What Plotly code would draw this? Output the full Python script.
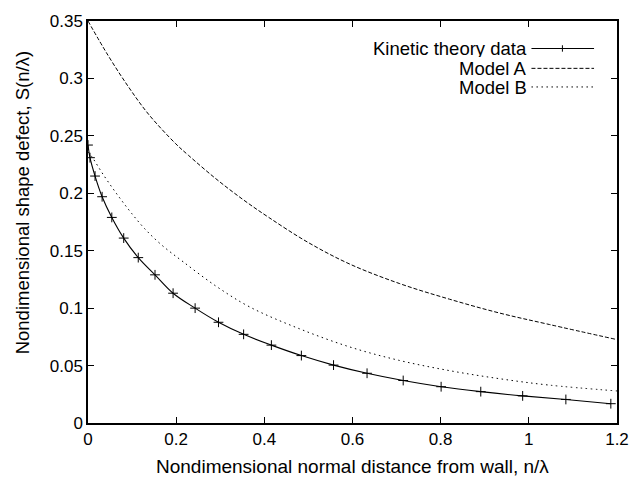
import plotly.graph_objects as go

# ---- data ----
kin_x = [0.0, 0.0045, 0.016, 0.032, 0.054, 0.081, 0.114, 0.152, 0.193, 0.243,
         0.296, 0.353, 0.416, 0.484, 0.557, 0.633, 0.715, 0.801, 0.891, 0.986,
         1.084, 1.186]
kin_y = [0.242, 0.231, 0.215, 0.197, 0.179, 0.161, 0.144, 0.129, 0.113, 0.100,
         0.0877, 0.0772, 0.0678, 0.0587, 0.0504, 0.0433, 0.0370, 0.0316, 0.0273,
         0.0236, 0.0205, 0.0168]

modelA_x = [0.0, 0.0456, 0.0912, 0.137, 0.198, 0.228, 0.289, 0.350, 0.410, 0.498,
            0.593, 0.706, 0.82, 0.933, 1.046, 1.2]
modelA_y = [0.350, 0.320, 0.293, 0.269, 0.2435, 0.2330, 0.2130, 0.1950, 0.1790,
            0.1575, 0.1385, 0.1215, 0.1078, 0.0958, 0.0858, 0.0726]

modelB_x = [0.0, 0.008, 0.038, 0.069, 0.099, 0.129, 0.167, 0.216, 0.291, 0.367,
            0.476, 0.593, 0.706, 0.82, 0.933, 1.046, 1.2]
modelB_y = [0.236, 0.2322, 0.2143, 0.1975, 0.1825, 0.1690, 0.1550, 0.1403, 0.1190,
            0.1010, 0.0826, 0.0663, 0.0545, 0.0456, 0.0386, 0.0330, 0.0279]

series_names = ["Kinetic theory data", "Model A", "Model B"]

x_ticks = [0, 0.2, 0.4, 0.6, 0.8, 1.0, 1.2]
x_tick_labels = ["0", "0.2", "0.4", "0.6", "0.8", "1", "1.2"]
y_ticks = [0, 0.05, 0.1, 0.15, 0.2, 0.25, 0.3, 0.35]
y_tick_labels = ["0", "0.05", "0.1", "0.15", "0.2", "0.25", "0.3", "0.35"]

x_title = "Nondimensional normal distance from wall, n/λ"
y_title = "Nondimensional shape defect, S(n/λ)"

FONT = "Liberation Sans, Arial, Helvetica, sans-serif"
DASH_A = "4px,2px"
DASH_B = "1.5px,3.5px"

fig = go.Figure()
fig.add_trace(go.Scatter(x=kin_x, y=kin_y, mode="lines+markers", name=series_names[0],
                         line=dict(color="black", width=1.1, shape="spline"),
                         marker=dict(symbol="cross-thin", size=7,
                                     line=dict(color="black", width=1))))
fig.add_trace(go.Scatter(x=modelA_x, y=modelA_y, mode="lines", name=series_names[1],
                         line=dict(color="black", width=1, dash=DASH_A, shape="spline")))
fig.add_trace(go.Scatter(x=modelB_x, y=modelB_y, mode="lines", name=series_names[2],
                         line=dict(color="black", width=1, dash=DASH_B, shape="spline")))

# custom legend (gnuplot style: text on the left, sample on the right)
leg_y = [0.9317, 0.8822, 0.8359]
dashes = ["solid", DASH_A, DASH_B]
for i, name in enumerate(series_names):
    fig.add_annotation(x=0.8326, y=leg_y[i], xref="paper", yref="paper", text=name,
                       showarrow=False, xanchor="right", yanchor="middle",
                       height=18, borderpad=0,
                       font=dict(family=FONT, size=18.5, color="black"))
    fig.add_shape(type="line", xref="paper", yref="paper", x0=0.8383, x1=0.9566,
                  y0=leg_y[i], y1=leg_y[i],
                  line=dict(color="black", width=1.1 if i == 0 else 1, dash=dashes[i]))
fig.add_shape(type="line", xref="paper", yref="paper", x0=0.8968, x1=0.8968,
              y0=leg_y[0] - 0.008, y1=leg_y[0] + 0.008, line=dict(color="black", width=1))

# axis titles
fig.add_annotation(x=0.5, y=-0.108, xref="paper", yref="paper", text=x_title,
                   showarrow=False, xanchor="center", yanchor="middle",
                   font=dict(family=FONT, size=19, color="black"))
fig.add_annotation(x=-0.1236, y=0.548, xref="paper", yref="paper", text=y_title,
                   showarrow=False, xanchor="center", yanchor="middle", textangle=-90,
                   font=dict(family=FONT, size=18.5, color="black"))

fig.update_layout(
    width=641, height=481,
    margin=dict(l=88, r=23, t=13, b=58),
    paper_bgcolor="white", plot_bgcolor="white",
    font=dict(family=FONT, size=17, color="black"),
    showlegend=False,
)
fig.update_xaxes(range=[0, 1.2], tickvals=x_ticks, ticktext=x_tick_labels,
                 ticks="inside", ticklen=6, tickwidth=1, tickcolor="black",
                 showline=True, linecolor="black", linewidth=1.5, mirror="ticks",
                 showgrid=False, zeroline=False)
fig.update_yaxes(range=[0, 0.35], tickvals=y_ticks, ticktext=y_tick_labels,
                 ticks="inside", ticklen=6, tickwidth=1, tickcolor="black",
                 showline=True, linecolor="black", linewidth=1.5, mirror="ticks",
                 showgrid=False, zeroline=False)

fig.write_html("out.html", config={"displayModeBar": False},
               post_script="document.body.style.margin='0';document.body.style.padding='0';")
